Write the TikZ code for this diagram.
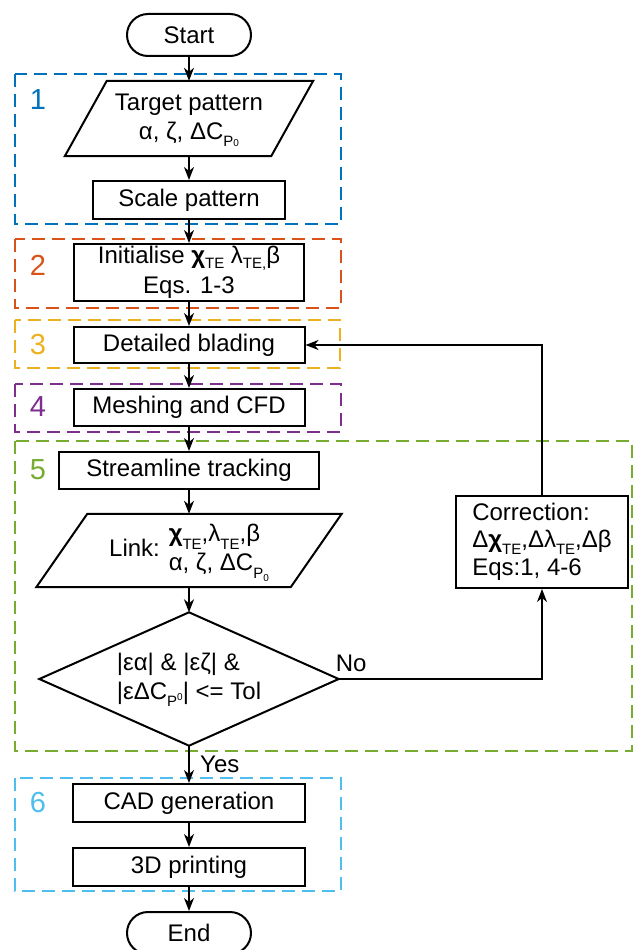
\documentclass[tikz,border=0pt]{standalone}
\usepackage{fontspec}
\setmainfont{Liberation Sans}
\usetikzlibrary{arrows.meta,calc}
\definecolor{cA}{HTML}{0072BD}
\definecolor{cB}{HTML}{D95319}
\definecolor{cC}{HTML}{EDB120}
\definecolor{cD}{HTML}{7E2F8E}
\definecolor{cE}{HTML}{77AC30}
\definecolor{cF}{HTML}{4DBEEE}
\newcommand\sbx[1]{\raisebox{-0.3em}[0pt][0pt]{\fontsize{15}{15}\selectfont #1}}
\newcommand\tz[1]{{\fontsize{10}{10}\selectfont #1}}
\begin{document}
\begin{tikzpicture}[x=1pt,y=-1pt,
  every node/.style={font=\fontsize{24}{29}\selectfont, inner sep=0pt},
  box/.style={draw, line width=2pt, minimum height=37, minimum width=231},
  term/.style={draw, line width=2pt, rounded corners=21pt, minimum width=124, minimum height=42},
  zone/.style={line width=2.8pt, dash pattern=on 13pt off 7pt},
  num/.style={font=\fontsize{29}{29}\selectfont},
  arr/.style={line width=1.6pt, -{Stealth[length=13pt,width=10pt,inset=4pt]}},
  shp/.style={line width=2pt, line join=miter},
]
\useasboundingbox (0,0) rectangle (635,950);
% zones
\draw[zone,cA] (15,74) rectangle (341,224);
\draw[zone,cB] (15,239) rectangle (341,308);
\draw[zone,cC] (15,320) rectangle (340,368);
\draw[zone,cD] (15,384) rectangle (341,432);
\draw[zone,cE] (15,441) rectangle (632,751);
\draw[zone,cF] (15,778) rectangle (341,891);
\node[num,text=cA] (n1) at (38,100) {1};
\node[num,text=cB] (n2) at (38,265) {2};
\node[num,text=cC] (n3) at (38,345) {3};
\node[num,text=cD] (n4) at (38,407) {4};
\node[num,text=cE] (n5) at (38,470) {5};
\node[num,text=cF] (n6) at (38,803) {6};
% nodes
\node[term] (start) at (189,35) {Start};
\node[minimum width=248, minimum height=75, align=center] (target) at (189,118.5)
  {Target pattern\\α, ζ, ΔC\sbx{P\tz{0}}};
\draw[shp] ([xshift=42pt]target.north west) -- (target.north east) -- ([xshift=-42pt]target.south east) -- (target.south west) -- cycle;
\node[box, minimum width=192, minimum height=38] (scale) at (189,200) {Scale pattern};
\node[box, minimum width=230, minimum height=57, align=center] (init) at (189,272.5)
  {Initialise \textbf{χ}\raisebox{-0.2em}[0pt][0pt]{\fontsize{15}{15}\selectfont TE} λ\raisebox{-0.2em}[0pt][0pt]{\fontsize{15}{15}\selectfont TE,}β\\[1pt]Eqs. 1-3};
\node[box, minimum width=231, minimum height=36] (blade) at (189,345) {Detailed blading};
\node[box, minimum width=231, minimum height=37] (mesh) at (189,407.5) {Meshing and CFD};
\node[box, minimum width=260, minimum height=37] (stream) at (189,470.5) {Streamline tracking};
\node[minimum width=305, minimum height=73] (link) at (189,550.5)
  {Link: \begin{tabular}{@{}l@{}}\textbf{χ}\sbx{TE},λ\sbx{TE},β\\ α, ζ, ΔC\sbx{P\raisebox{-0.25em}{\tz{0}}}\end{tabular}};
\draw[shp] ([xshift=51pt]link.north west) -- (link.north east) -- ([xshift=-51pt]link.south east) -- (link.south west) -- cycle;
\node[minimum width=299, minimum height=133, align=left] (dec) at (189,679)
  {|εα| \& |εζ| \&\\ |εΔC\sbx{P\raisebox{0.45em}{\tz{0}}}| <= Tol};
\draw[shp] (dec.north) -- (dec.east) -- (dec.south) -- (dec.west) -- cycle;
\node[box, minimum width=172, minimum height=92, align=left] (corr) at (542,542)
  {Correction:\\[-2pt] Δ\textbf{χ}\sbx{TE},Δλ\sbx{TE},Δβ\\[-1pt] Eqs:1, 4-6};
\node[box, minimum width=232, minimum height=38] (cad) at (189,803) {CAD generation};
\node[box, minimum width=232, minimum height=38] (print) at (189,867) {3D printing};
\node[term] (end) at (189,933) {End};
% connectors
\draw[arr] (start.south) -- (target.north);
\draw[arr] (target.south) -- (scale.north);
\draw[arr] (scale.south) -- (init.north);
\draw[arr] (init.south) -- (blade.north);
\draw[arr] (blade.south) -- (mesh.north);
\draw[arr] (mesh.south) -- (stream.north);
\draw[arr] (stream.south) -- (link.north);
\draw[arr] (link.south) -- (dec.north);
\draw[arr] (dec.south) -- (cad.north);
\draw[arr] (cad.south) -- (print.north);
\draw[arr] (print.south) -- (end.north);
\draw[arr] (dec.east) -- (corr.south |- dec.east) -- (corr.south);
\draw[arr] (corr.north) |- (blade.east);
\node[anchor=base west] (no) at ([xshift=-3pt,yshift=8pt]dec.east) {No};
\node[anchor=base west] (yes) at ([xshift=11pt,yshift=-27pt]dec.south) {Yes};
\end{tikzpicture}
\end{document}
